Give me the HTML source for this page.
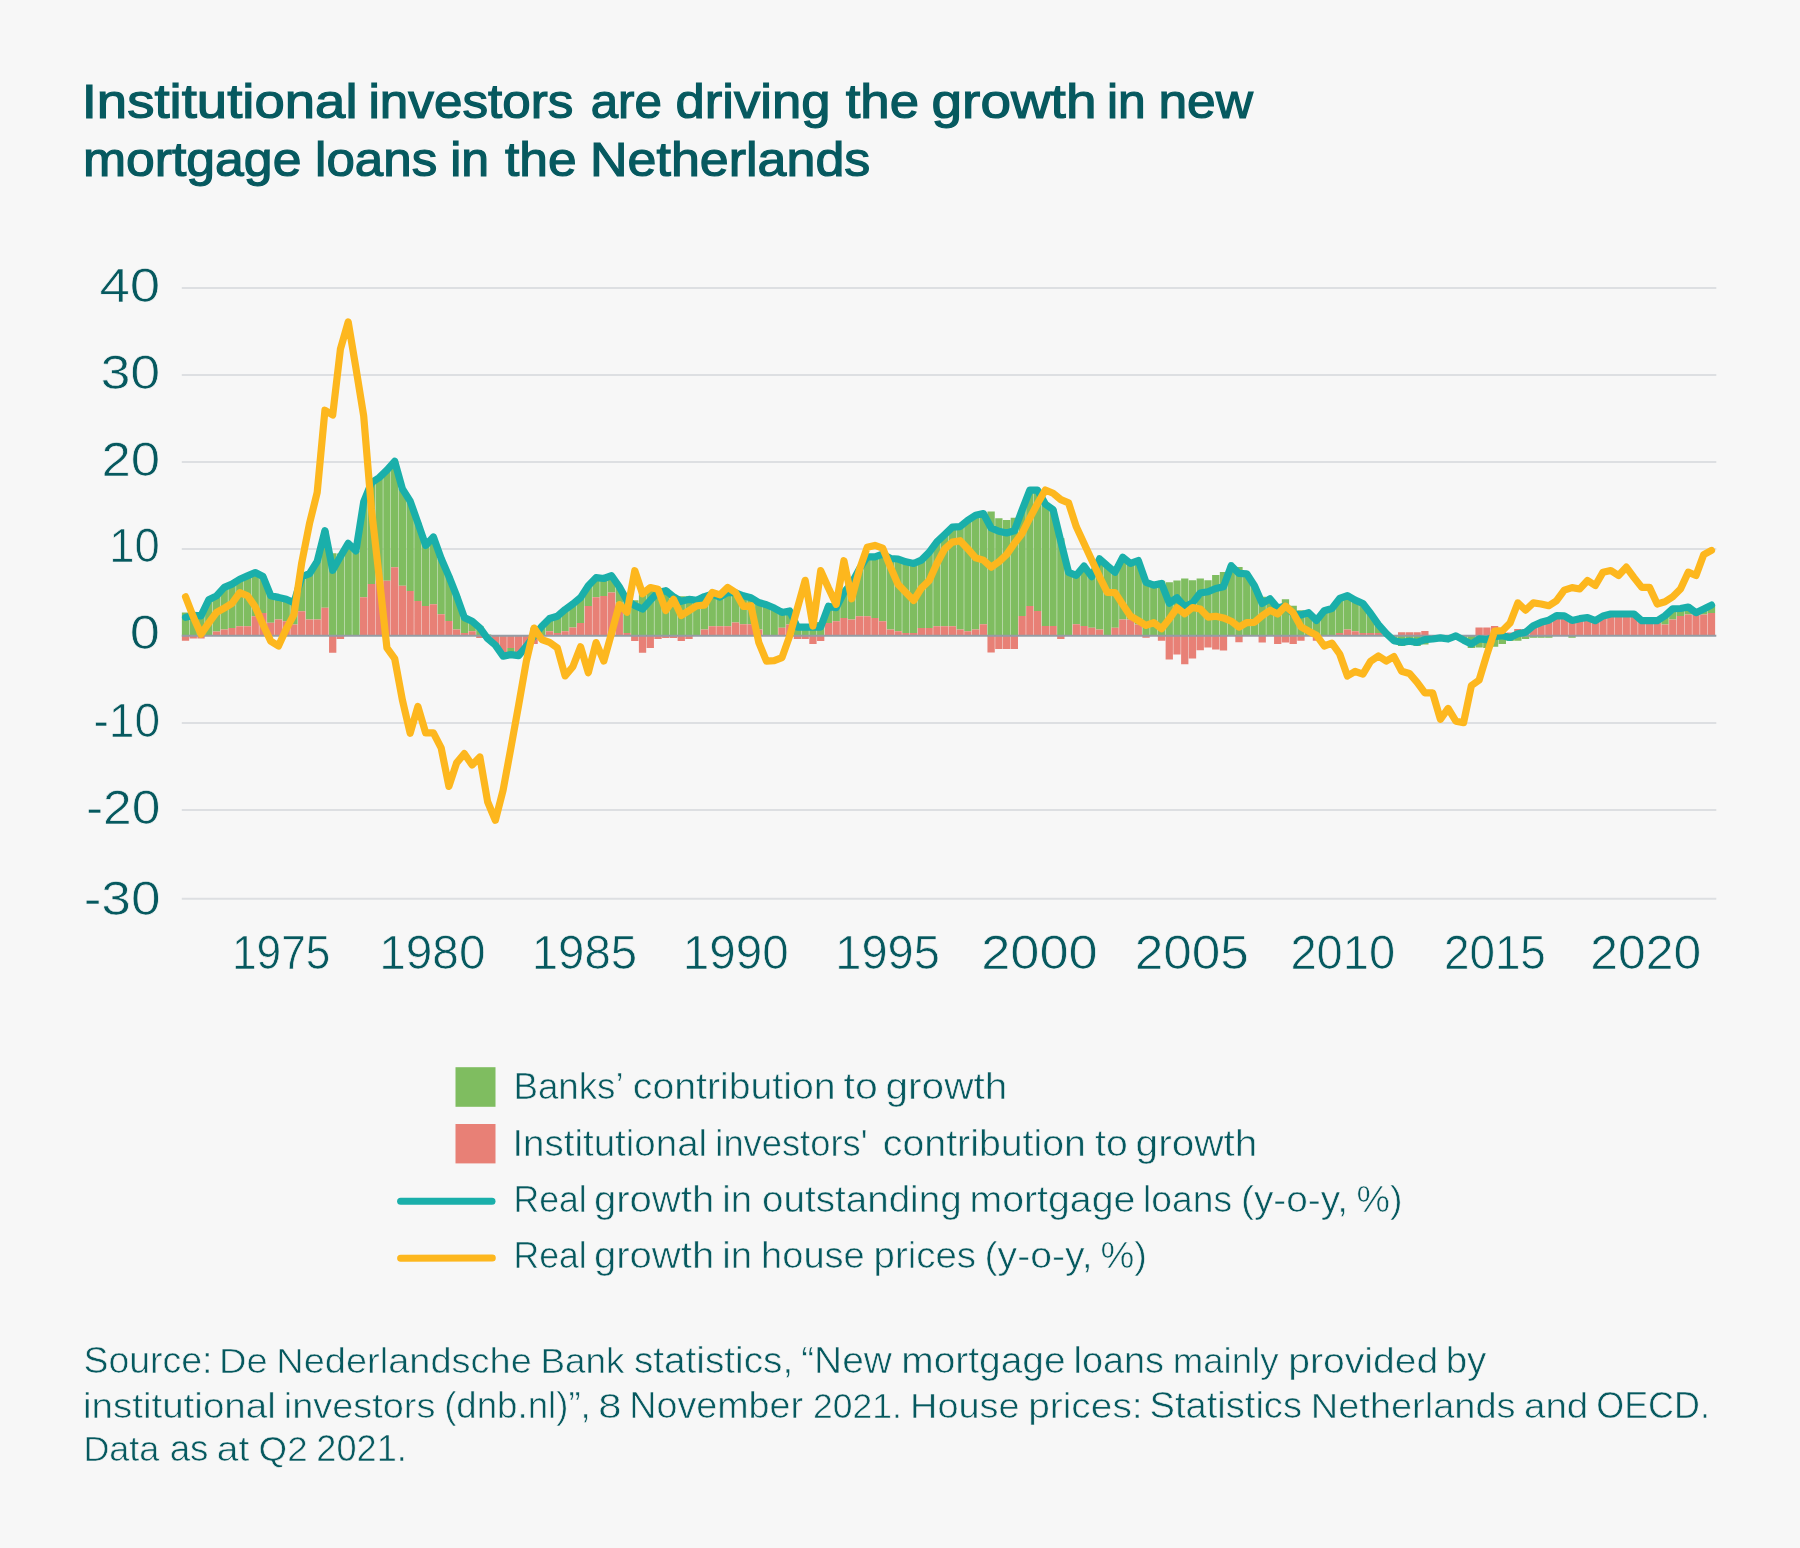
<!DOCTYPE html>
<html><head><meta charset="utf-8"><title>Chart</title>
<style>html,body{margin:0;padding:0;background:#f7f7f7;}body{width:1800px;height:1548px;position:relative;overflow:hidden;font-family:"Liberation Sans",sans-serif;}</style>
</head><body>
<svg width="1800" height="1548" viewBox="0 0 1800 1548" style="position:absolute;left:0;top:0">
<rect width="1800" height="1548" fill="#f7f7f7"/>
<line x1="181.8" x2="1716.3" y1="288.12" y2="288.12" stroke="#dddfe2" stroke-width="2"/>
<line x1="181.8" x2="1716.3" y1="375.09" y2="375.09" stroke="#dddfe2" stroke-width="2"/>
<line x1="181.8" x2="1716.3" y1="462.06" y2="462.06" stroke="#dddfe2" stroke-width="2"/>
<line x1="181.8" x2="1716.3" y1="549.03" y2="549.03" stroke="#dddfe2" stroke-width="2"/>
<line x1="181.8" x2="1716.3" y1="722.97" y2="722.97" stroke="#dddfe2" stroke-width="2"/>
<line x1="181.8" x2="1716.3" y1="809.94" y2="809.94" stroke="#dddfe2" stroke-width="2"/>
<line x1="181.8" x2="1716.3" y1="898.80" y2="898.80" stroke="#dddfe2" stroke-width="2"/>
<path d="M181.87 612.59h7.3V635.90h-7.3zM189.62 612.85h7.3V635.90h-7.3zM197.37 613.29h7.3V635.90h-7.3zM205.11 599.81h7.3V635.90h-7.3zM212.86 595.89h7.3V631.55h-7.3zM220.60 587.37h7.3V629.55h-7.3zM228.35 584.07h7.3V627.90h-7.3zM236.10 579.28h7.3V626.33h-7.3zM243.84 575.89h7.3V626.33h-7.3zM251.59 572.50h7.3V616.24h-7.3zM259.33 576.50h7.3V612.94h-7.3zM267.08 595.72h7.3V622.85h-7.3zM274.82 597.37h7.3V619.55h-7.3zM282.57 599.29h7.3V621.20h-7.3zM290.32 602.85h7.3V624.59h-7.3zM298.06 576.76h7.3V611.20h-7.3zM305.81 573.72h7.3V619.55h-7.3zM313.56 561.45h7.3V619.55h-7.3zM321.30 530.67h7.3V607.72h-7.3zM329.05 553.28h7.3V635.90h-7.3zM336.79 553.45h7.3V635.90h-7.3zM344.54 543.36h7.3V635.90h-7.3zM352.29 550.84h7.3V635.90h-7.3zM360.03 501.97h7.3V597.37h-7.3zM367.78 482.83h7.3V584.07h-7.3zM375.52 477.61h7.3V580.67h-7.3zM383.27 470.14h7.3V580.67h-7.3zM391.02 461.26h7.3V567.37h-7.3zM398.76 488.92h7.3V585.72h-7.3zM406.51 501.10h7.3V590.94h-7.3zM414.25 522.84h7.3V600.94h-7.3zM422.00 545.45h7.3V605.98h-7.3zM429.75 537.02h7.3V604.16h-7.3zM437.49 558.50h7.3V614.33h-7.3zM445.24 576.33h7.3V621.03h-7.3zM452.98 595.89h7.3V629.38h-7.3zM460.73 617.64h7.3V632.94h-7.3zM468.48 621.20h7.3V631.20h-7.3zM476.22 625.90h7.3V635.90h-7.3zM483.97 634.60h7.3V635.90h-7.3zM499.46 654.16h7.3V656.25h-7.3zM507.20 647.90h7.3V654.60h-7.3zM514.95 654.16h7.3V655.64h-7.3zM530.44 627.81h7.3V635.90h-7.3zM538.19 626.33h7.3V635.90h-7.3zM545.93 618.51h7.3V631.20h-7.3zM553.68 616.24h7.3V632.94h-7.3zM561.43 609.55h7.3V631.20h-7.3zM569.17 603.98h7.3V627.55h-7.3zM576.92 597.63h7.3V622.94h-7.3zM584.66 585.72h7.3V605.90h-7.3zM592.41 577.63h7.3V597.37h-7.3zM600.16 578.50h7.3V596.07h-7.3zM607.90 575.72h7.3V592.41h-7.3zM615.65 586.76h7.3V602.85h-7.3zM623.39 600.68h7.3V632.94h-7.3zM631.14 600.33h7.3V635.90h-7.3zM638.89 592.07h7.3V635.90h-7.3zM646.63 588.33h7.3V635.90h-7.3zM654.38 589.28h7.3V635.90h-7.3zM662.12 588.68h7.3V635.90h-7.3zM669.87 594.76h7.3V635.90h-7.3zM677.62 596.15h7.3V635.90h-7.3zM685.36 596.24h7.3V635.90h-7.3zM693.11 600.33h7.3V635.90h-7.3zM700.86 596.59h7.3V629.38h-7.3zM708.60 594.15h7.3V626.25h-7.3zM716.35 597.02h7.3V626.25h-7.3zM724.09 592.41h7.3V626.25h-7.3zM731.84 592.94h7.3V622.59h-7.3zM739.58 595.81h7.3V624.25h-7.3zM747.33 597.72h7.3V624.25h-7.3zM755.08 602.50h7.3V629.38h-7.3zM762.82 604.68h7.3V635.90h-7.3zM770.57 608.07h7.3V635.90h-7.3zM778.31 612.42h7.3V627.64h-7.3zM786.06 610.94h7.3V624.59h-7.3zM793.81 624.07h7.3V635.90h-7.3zM801.55 623.90h7.3V635.90h-7.3zM809.30 618.94h7.3V635.90h-7.3zM817.04 621.90h7.3V635.90h-7.3zM824.79 606.24h7.3V622.94h-7.3zM832.54 607.72h7.3V621.20h-7.3zM840.28 592.41h7.3V617.90h-7.3zM848.03 583.28h7.3V619.55h-7.3zM855.77 568.93h7.3V616.24h-7.3zM863.52 556.84h7.3V616.24h-7.3zM871.27 556.84h7.3V617.90h-7.3zM879.01 554.15h7.3V621.20h-7.3zM886.76 558.50h7.3V629.55h-7.3zM894.50 559.02h7.3V631.20h-7.3zM902.25 561.80h7.3V632.94h-7.3zM910.00 563.45h7.3V632.94h-7.3zM917.74 560.15h7.3V627.90h-7.3zM925.49 552.41h7.3V627.90h-7.3zM933.24 541.97h7.3V626.25h-7.3zM940.98 534.58h7.3V626.25h-7.3zM948.73 527.19h7.3V626.25h-7.3zM956.47 526.58h7.3V629.55h-7.3zM964.22 520.23h7.3V631.20h-7.3zM971.97 515.19h7.3V629.55h-7.3zM979.71 513.53h7.3V624.33h-7.3zM987.46 511.45h7.3V635.90h-7.3zM995.20 518.23h7.3V635.90h-7.3zM1002.95 519.88h7.3V635.90h-7.3zM1010.69 517.71h7.3V635.90h-7.3zM1018.44 510.14h7.3V615.90h-7.3zM1026.19 490.14h7.3V605.90h-7.3zM1033.93 490.14h7.3V611.03h-7.3zM1041.68 504.05h7.3V625.99h-7.3zM1049.42 509.62h7.3V625.99h-7.3zM1057.17 538.15h7.3V635.90h-7.3zM1064.92 572.41h7.3V635.90h-7.3zM1072.66 575.28h7.3V624.33h-7.3zM1080.41 566.06h7.3V625.99h-7.3zM1088.15 576.59h7.3V627.64h-7.3zM1095.90 558.84h7.3V629.38h-7.3zM1103.65 565.72h7.3V635.90h-7.3zM1111.39 572.15h7.3V627.64h-7.3zM1119.14 557.19h7.3V619.38h-7.3zM1126.88 563.45h7.3V619.38h-7.3zM1134.63 560.50h7.3V624.59h-7.3zM1142.38 580.59h7.3V635.90h-7.3zM1150.12 585.11h7.3V635.90h-7.3zM1157.87 580.67h7.3V635.90h-7.3zM1165.62 582.15h7.3V635.90h-7.3zM1173.36 580.50h7.3V635.90h-7.3zM1181.11 578.50h7.3V635.90h-7.3zM1188.85 580.24h7.3V635.90h-7.3zM1196.60 578.59h7.3V635.90h-7.3zM1204.35 580.24h7.3V635.90h-7.3zM1212.09 575.02h7.3V635.90h-7.3zM1219.84 572.06h7.3V635.90h-7.3zM1227.58 565.72h7.3V635.90h-7.3zM1235.33 567.11h7.3V635.90h-7.3zM1243.08 573.80h7.3V635.90h-7.3zM1250.82 585.72h7.3V635.90h-7.3zM1258.57 596.76h7.3V635.90h-7.3zM1266.31 598.76h7.3V635.90h-7.3zM1274.06 605.55h7.3V635.90h-7.3zM1281.81 599.29h7.3V635.90h-7.3zM1289.55 605.72h7.3V635.90h-7.3zM1297.30 610.24h7.3V635.90h-7.3zM1305.04 612.68h7.3V635.90h-7.3zM1312.79 615.64h7.3V635.90h-7.3zM1320.54 610.68h7.3V635.90h-7.3zM1328.28 608.50h7.3V635.90h-7.3zM1336.03 598.50h7.3V632.94h-7.3zM1343.77 595.72h7.3V629.55h-7.3zM1351.52 600.16h7.3V631.20h-7.3zM1359.27 603.46h7.3V632.94h-7.3zM1367.01 613.46h7.3V632.94h-7.3zM1374.76 624.59h7.3V632.94h-7.3zM1382.50 633.46h7.3V634.16h-7.3zM1390.25 635.90h7.3V640.68h-7.3zM1398.00 635.90h7.3V645.90h-7.3zM1405.74 635.90h7.3V644.77h-7.3zM1413.49 635.90h7.3V645.90h-7.3zM1421.23 635.90h7.3V644.51h-7.3zM1428.98 635.90h7.3V639.03h-7.3zM1436.73 635.90h7.3V637.90h-7.3zM1444.47 635.90h7.3V639.03h-7.3zM1459.96 635.90h7.3V640.16h-7.3zM1467.71 635.90h7.3V647.90h-7.3zM1475.46 635.90h7.3V647.47h-7.3zM1483.20 635.90h7.3V648.08h-7.3zM1490.95 635.90h7.3V646.68h-7.3zM1498.69 635.90h7.3V643.99h-7.3zM1506.44 635.90h7.3V640.94h-7.3zM1514.19 635.90h7.3V640.68h-7.3zM1521.93 635.90h7.3V639.03h-7.3zM1529.68 635.90h7.3V637.64h-7.3zM1537.42 635.90h7.3V637.64h-7.3zM1545.17 635.90h7.3V637.64h-7.3zM1568.41 635.90h7.3V637.64h-7.3zM1661.36 615.72h7.3V624.59h-7.3zM1669.11 608.77h7.3V619.55h-7.3zM1676.85 608.50h7.3V615.98h-7.3zM1684.60 607.03h7.3V614.59h-7.3zM1692.34 612.68h7.3V614.59h-7.3zM1700.09 609.03h7.3V614.59h-7.3zM1707.84 605.11h7.3V612.94h-7.3z" fill="#7fbd60"/>
<path d="M181.87 635.90h7.3V640.68h-7.3zM189.62 635.90h7.3V638.51h-7.3zM197.37 635.90h7.3V638.51h-7.3zM212.86 631.55h7.3V635.90h-7.3zM220.60 629.55h7.3V635.90h-7.3zM228.35 627.90h7.3V635.90h-7.3zM236.10 626.33h7.3V635.90h-7.3zM243.84 626.33h7.3V635.90h-7.3zM251.59 616.24h7.3V635.90h-7.3zM259.33 612.94h7.3V635.90h-7.3zM267.08 622.85h7.3V635.90h-7.3zM274.82 619.55h7.3V635.90h-7.3zM282.57 621.20h7.3V635.90h-7.3zM290.32 624.59h7.3V635.90h-7.3zM298.06 611.20h7.3V635.90h-7.3zM305.81 619.55h7.3V635.90h-7.3zM313.56 619.55h7.3V635.90h-7.3zM321.30 607.72h7.3V635.90h-7.3zM329.05 635.90h7.3V652.86h-7.3zM336.79 635.90h7.3V639.03h-7.3zM360.03 597.37h7.3V635.90h-7.3zM367.78 584.07h7.3V635.90h-7.3zM375.52 580.67h7.3V635.90h-7.3zM383.27 580.67h7.3V635.90h-7.3zM391.02 567.37h7.3V635.90h-7.3zM398.76 585.72h7.3V635.90h-7.3zM406.51 590.94h7.3V635.90h-7.3zM414.25 600.94h7.3V635.90h-7.3zM422.00 605.98h7.3V635.90h-7.3zM429.75 604.16h7.3V635.90h-7.3zM437.49 614.33h7.3V635.90h-7.3zM445.24 621.03h7.3V635.90h-7.3zM452.98 629.38h7.3V635.90h-7.3zM460.73 632.94h7.3V635.90h-7.3zM468.48 631.20h7.3V635.90h-7.3zM476.22 635.90h7.3V637.90h-7.3zM483.97 635.90h7.3V639.81h-7.3zM491.71 635.90h7.3V645.12h-7.3zM499.46 635.90h7.3V654.16h-7.3zM507.20 635.90h7.3V647.90h-7.3zM514.95 635.90h7.3V654.16h-7.3zM522.70 635.90h7.3V646.34h-7.3zM530.44 635.90h7.3V643.99h-7.3zM545.93 631.20h7.3V635.90h-7.3zM553.68 632.94h7.3V635.90h-7.3zM561.43 631.20h7.3V635.90h-7.3zM569.17 627.55h7.3V635.90h-7.3zM576.92 622.94h7.3V635.90h-7.3zM584.66 605.90h7.3V635.90h-7.3zM592.41 597.37h7.3V635.90h-7.3zM600.16 596.07h7.3V635.90h-7.3zM607.90 592.41h7.3V635.90h-7.3zM615.65 602.85h7.3V635.90h-7.3zM623.39 632.94h7.3V635.90h-7.3zM631.14 635.90h7.3V641.03h-7.3zM638.89 635.90h7.3V652.86h-7.3zM646.63 635.90h7.3V647.90h-7.3zM654.38 635.90h7.3V639.03h-7.3zM662.12 635.90h7.3V637.90h-7.3zM669.87 635.90h7.3V637.90h-7.3zM677.62 635.90h7.3V641.03h-7.3zM685.36 635.90h7.3V639.03h-7.3zM700.86 629.38h7.3V635.90h-7.3zM708.60 626.25h7.3V635.90h-7.3zM716.35 626.25h7.3V635.90h-7.3zM724.09 626.25h7.3V635.90h-7.3zM731.84 622.59h7.3V635.90h-7.3zM739.58 624.25h7.3V635.90h-7.3zM747.33 624.25h7.3V635.90h-7.3zM755.08 629.38h7.3V635.90h-7.3zM778.31 627.64h7.3V635.90h-7.3zM786.06 624.59h7.3V635.90h-7.3zM793.81 635.90h7.3V639.03h-7.3zM801.55 635.90h7.3V639.03h-7.3zM809.30 635.90h7.3V643.99h-7.3zM817.04 635.90h7.3V641.03h-7.3zM824.79 622.94h7.3V635.90h-7.3zM832.54 621.20h7.3V635.90h-7.3zM840.28 617.90h7.3V635.90h-7.3zM848.03 619.55h7.3V635.90h-7.3zM855.77 616.24h7.3V635.90h-7.3zM863.52 616.24h7.3V635.90h-7.3zM871.27 617.90h7.3V635.90h-7.3zM879.01 621.20h7.3V635.90h-7.3zM886.76 629.55h7.3V635.90h-7.3zM894.50 631.20h7.3V635.90h-7.3zM902.25 632.94h7.3V635.90h-7.3zM910.00 632.94h7.3V635.90h-7.3zM917.74 627.90h7.3V635.90h-7.3zM925.49 627.90h7.3V635.90h-7.3zM933.24 626.25h7.3V635.90h-7.3zM940.98 626.25h7.3V635.90h-7.3zM948.73 626.25h7.3V635.90h-7.3zM956.47 629.55h7.3V635.90h-7.3zM964.22 631.20h7.3V635.90h-7.3zM971.97 629.55h7.3V635.90h-7.3zM979.71 624.33h7.3V635.90h-7.3zM987.46 635.90h7.3V652.42h-7.3zM995.20 635.90h7.3V648.95h-7.3zM1002.95 635.90h7.3V648.95h-7.3zM1010.69 635.90h7.3V648.95h-7.3zM1018.44 615.90h7.3V635.90h-7.3zM1026.19 605.90h7.3V635.90h-7.3zM1033.93 611.03h7.3V635.90h-7.3zM1041.68 625.99h7.3V635.90h-7.3zM1049.42 625.99h7.3V635.90h-7.3zM1057.17 635.90h7.3V639.03h-7.3zM1072.66 624.33h7.3V635.90h-7.3zM1080.41 625.99h7.3V635.90h-7.3zM1088.15 627.64h7.3V635.90h-7.3zM1095.90 629.38h7.3V635.90h-7.3zM1111.39 627.64h7.3V635.90h-7.3zM1119.14 619.38h7.3V635.90h-7.3zM1126.88 619.38h7.3V635.90h-7.3zM1134.63 624.59h7.3V635.90h-7.3zM1142.38 635.90h7.3V637.64h-7.3zM1157.87 635.90h7.3V640.77h-7.3zM1165.62 635.90h7.3V659.38h-7.3zM1173.36 635.90h7.3V654.42h-7.3zM1181.11 635.90h7.3V664.17h-7.3zM1188.85 635.90h7.3V658.51h-7.3zM1196.60 635.90h7.3V650.25h-7.3zM1204.35 635.90h7.3V647.47h-7.3zM1212.09 635.90h7.3V649.38h-7.3zM1219.84 635.90h7.3V650.60h-7.3zM1235.33 635.90h7.3V642.25h-7.3zM1258.57 635.90h7.3V642.60h-7.3zM1274.06 635.90h7.3V643.99h-7.3zM1281.81 635.90h7.3V642.60h-7.3zM1289.55 635.90h7.3V643.99h-7.3zM1297.30 635.90h7.3V640.68h-7.3zM1312.79 635.90h7.3V640.68h-7.3zM1336.03 632.94h7.3V635.90h-7.3zM1343.77 629.55h7.3V635.90h-7.3zM1351.52 631.20h7.3V635.90h-7.3zM1359.27 632.94h7.3V635.90h-7.3zM1367.01 632.94h7.3V635.90h-7.3zM1374.76 632.94h7.3V635.90h-7.3zM1382.50 634.16h7.3V635.90h-7.3zM1398.00 632.33h7.3V635.90h-7.3zM1405.74 632.33h7.3V635.90h-7.3zM1413.49 632.33h7.3V635.90h-7.3zM1421.23 630.94h7.3V635.90h-7.3zM1475.46 627.38h7.3V635.90h-7.3zM1483.20 627.38h7.3V635.90h-7.3zM1490.95 625.99h7.3V635.90h-7.3zM1498.69 632.42h7.3V635.90h-7.3zM1506.44 632.42h7.3V635.90h-7.3zM1514.19 628.94h7.3V635.90h-7.3zM1521.93 629.20h7.3V635.90h-7.3zM1529.68 623.99h7.3V635.90h-7.3zM1537.42 620.59h7.3V635.90h-7.3zM1545.17 618.42h7.3V635.90h-7.3zM1552.92 615.72h7.3V635.90h-7.3zM1560.66 615.90h7.3V635.90h-7.3zM1568.41 618.68h7.3V635.90h-7.3zM1576.15 618.68h7.3V635.90h-7.3zM1583.90 617.55h7.3V635.90h-7.3zM1591.65 620.68h7.3V635.90h-7.3zM1599.39 615.98h7.3V635.90h-7.3zM1607.14 613.98h7.3V635.90h-7.3zM1614.88 613.98h7.3V635.90h-7.3zM1622.63 613.98h7.3V635.90h-7.3zM1630.38 613.98h7.3V635.90h-7.3zM1638.12 620.68h7.3V635.90h-7.3zM1645.87 620.68h7.3V635.90h-7.3zM1653.61 620.68h7.3V635.90h-7.3zM1661.36 624.59h7.3V635.90h-7.3zM1669.11 619.55h7.3V635.90h-7.3zM1676.85 615.98h7.3V635.90h-7.3zM1684.60 614.59h7.3V635.90h-7.3zM1692.34 614.59h7.3V635.90h-7.3zM1700.09 614.59h7.3V635.90h-7.3zM1707.84 612.94h7.3V635.90h-7.3z" fill="#e88076"/>
<line x1="181.8" x2="1716.3" y1="635.8" y2="635.8" stroke="#959ca4" stroke-width="2.1"/>
<polyline points="185.52,617.38 193.27,615.46 201.02,615.90 208.76,599.81 216.51,595.89 224.25,587.37 232.00,584.07 239.75,579.28 247.49,575.89 255.24,572.50 262.98,576.50 270.73,595.72 278.48,597.37 286.22,599.29 293.97,602.85 301.71,576.76 309.46,573.72 317.21,561.45 324.95,530.67 332.70,570.24 340.44,556.58 348.19,543.36 355.94,550.84 363.68,501.97 371.43,482.83 379.17,477.61 386.92,470.14 394.67,461.26 402.41,488.92 410.16,501.10 417.90,522.84 425.65,545.45 433.39,537.02 441.14,558.50 448.89,576.33 456.63,595.89 464.38,617.64 472.12,621.20 479.87,627.90 487.62,638.51 495.36,645.12 503.11,656.25 510.86,654.60 518.60,655.64 526.35,646.34 534.09,635.90 541.84,626.33 549.59,618.51 557.33,616.24 565.08,609.55 572.82,603.98 580.57,597.63 588.32,585.72 596.06,577.63 603.81,578.50 611.55,575.72 619.30,586.76 627.05,600.68 634.79,605.46 642.54,609.03 650.28,600.33 658.03,592.41 665.77,590.68 673.52,596.76 681.27,601.29 689.01,599.37 696.76,600.33 704.50,596.59 712.25,594.15 720.00,597.02 727.74,592.41 735.49,592.94 743.24,595.81 750.98,597.72 758.73,602.50 766.47,604.68 774.22,608.07 781.97,612.42 789.71,610.94 797.46,627.20 805.20,627.03 812.95,627.03 820.70,627.03 828.44,606.24 836.19,607.72 843.93,592.41 851.68,583.28 859.43,568.93 867.17,556.84 874.92,556.84 882.66,554.15 890.41,558.50 898.15,559.02 905.90,561.80 913.65,563.45 921.39,560.15 929.14,552.41 936.88,541.97 944.63,534.58 952.38,527.19 960.12,526.58 967.87,520.23 975.62,515.19 983.36,513.53 991.11,527.97 998.85,531.28 1006.60,532.93 1014.35,530.75 1022.09,510.14 1029.84,490.14 1037.58,490.14 1045.33,504.05 1053.08,509.62 1060.82,541.28 1068.57,572.41 1076.31,575.28 1084.06,566.06 1091.81,576.59 1099.55,558.84 1107.30,565.72 1115.04,572.15 1122.79,557.19 1130.54,563.45 1138.28,560.50 1146.03,582.33 1153.77,585.11 1161.52,583.46 1169.27,603.29 1177.01,597.72 1184.76,606.77 1192.50,602.85 1200.25,592.94 1208.00,591.81 1215.74,588.50 1223.49,586.76 1231.23,565.72 1238.98,573.46 1246.73,573.80 1254.47,585.72 1262.22,603.46 1269.96,598.76 1277.71,608.07 1285.46,605.98 1293.20,613.81 1300.95,615.03 1308.69,612.68 1316.44,620.42 1324.19,610.68 1331.93,608.50 1339.68,598.50 1347.42,595.72 1355.17,600.16 1362.92,603.46 1370.66,613.46 1378.41,624.59 1386.15,633.46 1393.90,640.68 1401.65,642.34 1409.39,641.21 1417.14,642.34 1424.88,639.55 1432.63,639.03 1440.38,637.90 1448.12,639.03 1455.87,635.90 1463.61,640.16 1471.36,643.99 1479.11,638.94 1486.85,639.55 1494.60,636.77 1502.34,635.64 1510.09,637.47 1517.84,633.73 1525.58,632.33 1533.33,625.72 1541.07,622.33 1548.82,620.16 1556.57,615.72 1564.31,615.90 1572.06,620.42 1579.80,618.68 1587.55,617.55 1595.30,620.68 1603.04,615.98 1610.79,613.98 1618.53,613.98 1626.28,613.98 1634.03,613.98 1641.77,620.68 1649.52,620.68 1657.26,620.68 1665.01,615.72 1672.76,608.77 1680.50,608.50 1688.25,607.03 1695.99,612.68 1703.74,609.03 1711.49,605.11" fill="none" stroke="#1aafaa" stroke-width="7.2" stroke-linejoin="round" stroke-linecap="round"/>
<polyline points="185.52,596.76 193.27,616.77 201.02,634.16 208.76,622.85 216.51,612.42 224.25,608.07 232.00,603.46 239.75,592.59 247.49,595.72 255.24,606.77 262.98,624.59 270.73,641.12 278.48,645.99 286.22,628.94 293.97,614.59 301.71,562.85 309.46,523.71 317.21,492.40 324.95,410.21 332.70,415.00 340.44,348.90 348.19,321.94 355.94,368.03 363.68,415.87 371.43,508.92 379.17,576.76 386.92,647.90 394.67,658.51 402.41,700.08 410.16,733.22 417.90,706.43 425.65,732.87 433.39,732.87 441.14,747.83 448.89,786.36 456.63,762.88 464.38,753.66 472.12,765.05 479.87,756.96 487.62,801.75 495.36,820.28 503.11,790.10 510.86,748.09 518.60,705.48 526.35,661.12 534.09,628.07 541.84,639.55 549.59,642.34 557.33,647.90 565.08,675.91 572.82,666.77 580.57,646.77 588.32,672.69 596.06,642.60 603.81,661.03 611.55,633.29 619.30,604.59 627.05,612.16 634.79,570.67 642.54,593.81 650.28,587.54 658.03,589.28 665.77,610.50 673.52,599.37 681.27,615.46 689.01,610.68 696.76,605.72 704.50,605.11 712.25,592.41 720.00,594.85 727.74,587.37 735.49,592.59 743.24,606.33 750.98,605.72 758.73,642.34 766.47,661.03 774.22,660.69 781.97,657.64 789.71,635.90 797.46,608.07 805.20,580.33 812.95,625.99 820.70,570.67 828.44,588.07 836.19,604.33 843.93,560.67 851.68,598.76 859.43,569.63 867.17,547.36 874.92,545.45 882.66,548.06 890.41,566.85 898.15,584.59 905.90,592.41 913.65,600.50 921.39,588.07 929.14,580.67 936.88,563.45 944.63,548.93 952.38,542.15 960.12,540.67 967.87,548.93 975.62,557.89 983.36,560.15 991.11,567.19 998.85,561.80 1006.60,554.58 1014.35,543.45 1022.09,533.45 1029.84,517.97 1037.58,503.53 1045.33,489.96 1053.08,493.27 1060.82,499.62 1068.57,502.92 1076.31,526.84 1084.06,543.45 1091.81,560.15 1099.55,576.85 1107.30,592.41 1115.04,592.59 1122.79,604.59 1130.54,616.24 1138.28,620.68 1146.03,625.46 1153.77,622.68 1161.52,628.77 1169.27,619.03 1177.01,607.90 1184.76,613.81 1192.50,607.55 1200.25,609.03 1208.00,617.11 1215.74,616.24 1223.49,617.90 1231.23,621.20 1238.98,627.20 1246.73,622.59 1254.47,622.33 1262.22,615.72 1269.96,610.33 1277.71,613.98 1285.46,605.98 1293.20,612.94 1300.95,626.77 1308.69,631.20 1316.44,635.12 1324.19,645.99 1331.93,643.21 1339.68,653.99 1347.42,675.99 1355.17,671.47 1362.92,674.08 1370.66,661.21 1378.41,655.99 1386.15,661.03 1393.90,656.60 1401.65,671.21 1409.39,673.47 1417.14,682.34 1424.88,692.87 1432.63,692.87 1440.38,719.30 1448.12,708.43 1455.87,721.22 1463.61,722.61 1471.36,685.65 1479.11,680.08 1486.85,654.60 1494.60,631.03 1502.34,630.68 1510.09,622.94 1517.84,602.94 1525.58,610.16 1533.33,602.94 1541.07,603.98 1548.82,605.72 1556.57,600.68 1564.31,590.15 1572.06,587.63 1579.80,588.94 1587.55,580.50 1595.30,585.46 1603.04,572.15 1610.79,570.50 1618.53,575.46 1626.28,567.19 1634.03,577.63 1641.77,587.37 1649.52,587.37 1657.26,603.98 1665.01,601.81 1672.76,596.76 1680.50,589.02 1688.25,572.15 1695.99,575.46 1703.74,554.58 1711.49,550.41" fill="none" stroke="#fdb71e" stroke-width="7.2" stroke-linejoin="round" stroke-linecap="round"/>
<rect x="455.5" y="1067.2" width="40" height="39.6" fill="#7fbd60"/>
<rect x="455.5" y="1124" width="40" height="39.4" fill="#e88076"/>
<line x1="400.6" x2="492.0" y1="1201.3" y2="1201.3" stroke="#1aafaa" stroke-width="7" stroke-linecap="round"/>
<line x1="400.6" x2="492.3" y1="1258.3" y2="1258.1" stroke="#fdb71e" stroke-width="7" stroke-linecap="round"/>
<g font-family="Liberation Sans, sans-serif" fill="#06595f" style="opacity:0.999">
<text transform="translate(81.64 118.00) scale(1.1390 1)" font-size="47.9" stroke="#06595f" stroke-width="1.2" paint-order="stroke">Institutional</text>
<text transform="translate(368.49 118.00) scale(1.0691 1)" font-size="47.9" stroke="#06595f" stroke-width="1.2" paint-order="stroke">investors</text>
<text transform="translate(590.67 118.00) scale(1.0299 1)" font-size="47.9" stroke="#06595f" stroke-width="1.2" paint-order="stroke">are</text>
<text transform="translate(675.60 118.00) scale(1.0986 1)" font-size="47.9" stroke="#06595f" stroke-width="1.2" paint-order="stroke">driving</text>
<text transform="translate(845.70 118.00) scale(1.1015 1)" font-size="47.9" stroke="#06595f" stroke-width="1.2" paint-order="stroke">the</text>
<text transform="translate(931.55 118.00) scale(1.1471 1)" font-size="47.9" stroke="#06595f" stroke-width="1.2" paint-order="stroke">growth</text>
<text transform="translate(1106.88 118.00) scale(1.0406 1)" font-size="47.9" stroke="#06595f" stroke-width="1.2" paint-order="stroke">in</text>
<text transform="translate(1158.47 118.00) scale(1.0756 1)" font-size="47.9" stroke="#06595f" stroke-width="1.2" paint-order="stroke">new</text>
<text transform="translate(82.96 175.80) scale(1.0798 1)" font-size="47.9" stroke="#06595f" stroke-width="1.2" paint-order="stroke">mortgage</text>
<text transform="translate(315.10 175.80) scale(1.0673 1)" font-size="47.9" stroke="#06595f" stroke-width="1.2" paint-order="stroke">loans</text>
<text transform="translate(450.17 175.80) scale(1.0437 1)" font-size="47.9" stroke="#06595f" stroke-width="1.2" paint-order="stroke">in</text>
<text transform="translate(505.00 175.80) scale(1.0769 1)" font-size="47.9" stroke="#06595f" stroke-width="1.2" paint-order="stroke">the</text>
<text transform="translate(590.04 175.80) scale(1.0854 1)" font-size="47.9" stroke="#06595f" stroke-width="1.2" paint-order="stroke">Netherlands</text>
<text transform="translate(99.47 301.50) scale(1.1160 1)" font-size="49" stroke="#f7f7f7" stroke-width="0.7">40</text>
<text transform="translate(100.41 388.50) scale(1.0980 1)" font-size="49" stroke="#f7f7f7" stroke-width="0.7">30</text>
<text transform="translate(101.47 475.50) scale(1.0776 1)" font-size="49" stroke="#f7f7f7" stroke-width="0.7">20</text>
<text transform="translate(109.29 562.40) scale(0.9271 1)" font-size="49" stroke="#f7f7f7" stroke-width="0.7">10</text>
<text transform="translate(129.78 649.40) scale(1.1087 1)" font-size="49" stroke="#f7f7f7" stroke-width="0.7">0</text>
<text transform="translate(93.48 736.60) scale(0.9415 1)" font-size="49" stroke="#f7f7f7" stroke-width="0.7">-10</text>
<text transform="translate(85.94 823.80) scale(1.0523 1)" font-size="49" stroke="#f7f7f7" stroke-width="0.7">-20</text>
<text transform="translate(83.64 914.50) scale(1.0862 1)" font-size="49" stroke="#f7f7f7" stroke-width="0.7">-30</text>
<text transform="translate(231.99 968.50) scale(0.9020 1)" font-size="49" stroke="#f7f7f7" stroke-width="0.7">1975</text>
<text transform="translate(379.20 968.50) scale(0.9757 1)" font-size="49" stroke="#f7f7f7" stroke-width="0.7">1980</text>
<text transform="translate(531.73 968.50) scale(0.9667 1)" font-size="49" stroke="#f7f7f7" stroke-width="0.7">1985</text>
<text transform="translate(682.82 968.50) scale(0.9709 1)" font-size="49" stroke="#f7f7f7" stroke-width="0.7">1990</text>
<text transform="translate(835.26 968.50) scale(0.9588 1)" font-size="49" stroke="#f7f7f7" stroke-width="0.7">1995</text>
<text transform="translate(981.19 968.50) scale(1.0692 1)" font-size="49" stroke="#f7f7f7" stroke-width="0.7">2000</text>
<text transform="translate(1134.65 968.50) scale(1.0485 1)" font-size="49" stroke="#f7f7f7" stroke-width="0.7">2005</text>
<text transform="translate(1290.42 968.50) scale(0.9615 1)" font-size="49" stroke="#f7f7f7" stroke-width="0.7">2010</text>
<text transform="translate(1443.89 968.50) scale(0.9359 1)" font-size="49" stroke="#f7f7f7" stroke-width="0.7">2015</text>
<text transform="translate(1590.25 968.50) scale(1.0173 1)" font-size="49" stroke="#f7f7f7" stroke-width="0.7">2020</text>
<text transform="translate(513.38 1098.90) scale(1.0067 1)" font-size="36.5" stroke="#f7f7f7" stroke-width="0.6">Banks’</text>
<text transform="translate(632.85 1098.90) scale(1.0750 1)" font-size="36.5" stroke="#f7f7f7" stroke-width="0.6">contribution</text>
<text transform="translate(843.58 1098.90) scale(1.1214 1)" font-size="36.5" stroke="#f7f7f7" stroke-width="0.6">to</text>
<text transform="translate(885.58 1098.90) scale(1.1105 1)" font-size="36.5" stroke="#f7f7f7" stroke-width="0.6">growth</text>
<text transform="translate(512.38 1155.60) scale(1.0551 1)" font-size="36.5" stroke="#f7f7f7" stroke-width="0.6">Institutional</text>
<text transform="translate(715.31 1155.60) scale(0.9953 1)" font-size="36.5" stroke="#f7f7f7" stroke-width="0.6">investors'</text>
<text transform="translate(882.85 1155.60) scale(1.0766 1)" font-size="36.5" stroke="#f7f7f7" stroke-width="0.6">contribution</text>
<text transform="translate(1095.03 1155.60) scale(1.0714 1)" font-size="36.5" stroke="#f7f7f7" stroke-width="0.6">to</text>
<text transform="translate(1135.58 1155.60) scale(1.1114 1)" font-size="36.5" stroke="#f7f7f7" stroke-width="0.6">growth</text>
<text transform="translate(513.48 1211.70) scale(0.9739 1)" font-size="36.5" stroke="#f7f7f7" stroke-width="0.6">Real</text>
<text transform="translate(593.90 1211.70) scale(1.0981 1)" font-size="36.5" stroke="#f7f7f7" stroke-width="0.6">growth</text>
<text transform="translate(722.16 1211.70) scale(1.0478 1)" font-size="36.5" stroke="#f7f7f7" stroke-width="0.6">in</text>
<text transform="translate(762.08 1211.70) scale(1.0576 1)" font-size="36.5" stroke="#f7f7f7" stroke-width="0.6">outstanding</text>
<text transform="translate(969.47 1211.70) scale(1.0765 1)" font-size="36.5" stroke="#f7f7f7" stroke-width="0.6">mortgage</text>
<text transform="translate(1143.04 1211.70) scale(1.0205 1)" font-size="36.5" stroke="#f7f7f7" stroke-width="0.6">loans</text>
<text transform="translate(1241.01 1211.70) scale(1.0638 1)" font-size="36.5" stroke="#f7f7f7" stroke-width="0.6">(y-o-y,</text>
<text transform="translate(1356.54 1211.70) scale(1.0300 1)" font-size="36.5" stroke="#f7f7f7" stroke-width="0.6">%)</text>
<text transform="translate(513.48 1268.30) scale(0.9739 1)" font-size="36.5" stroke="#f7f7f7" stroke-width="0.6">Real</text>
<text transform="translate(593.90 1268.30) scale(1.0981 1)" font-size="36.5" stroke="#f7f7f7" stroke-width="0.6">growth</text>
<text transform="translate(722.16 1268.30) scale(1.0478 1)" font-size="36.5" stroke="#f7f7f7" stroke-width="0.6">in</text>
<text transform="translate(761.07 1268.30) scale(1.0432 1)" font-size="36.5" stroke="#f7f7f7" stroke-width="0.6">house</text>
<text transform="translate(873.54 1268.30) scale(1.0527 1)" font-size="36.5" stroke="#f7f7f7" stroke-width="0.6">prices</text>
<text transform="translate(984.58 1268.30) scale(1.0723 1)" font-size="36.5" stroke="#f7f7f7" stroke-width="0.6">(y-o-y,</text>
<text transform="translate(1100.41 1268.30) scale(1.0425 1)" font-size="36.5" stroke="#f7f7f7" stroke-width="0.6">%)</text>
<text transform="translate(83.52 1373.30) scale(1.0398 1)" font-size="36" stroke="#f7f7f7" stroke-width="0.6">Source:</text>
<text transform="translate(219.02 1373.30) scale(1.0585 1)" font-size="36" stroke="#f7f7f7" stroke-width="0.6">De</text>
<text transform="translate(276.23 1373.30) scale(1.0557 1)" font-size="36" stroke="#f7f7f7" stroke-width="0.6">Nederlandsche</text>
<text transform="translate(540.43 1373.30) scale(1.0231 1)" font-size="36" stroke="#f7f7f7" stroke-width="0.6">Bank</text>
<text transform="translate(633.95 1373.30) scale(1.0761 1)" font-size="36" stroke="#f7f7f7" stroke-width="0.6">statistics,</text>
<text transform="translate(801.14 1373.30) scale(1.0802 1)" font-size="36" stroke="#f7f7f7" stroke-width="0.6">“New</text>
<text transform="translate(901.26 1373.30) scale(1.0803 1)" font-size="36" stroke="#f7f7f7" stroke-width="0.6">mortgage</text>
<text transform="translate(1073.54 1373.30) scale(1.0519 1)" font-size="36" stroke="#f7f7f7" stroke-width="0.6">loans</text>
<text transform="translate(1172.75 1373.30) scale(1.0170 1)" font-size="36" stroke="#f7f7f7" stroke-width="0.6">mainly</text>
<text transform="translate(1288.14 1373.30) scale(1.0879 1)" font-size="36" stroke="#f7f7f7" stroke-width="0.6">provided</text>
<text transform="translate(1445.69 1373.30) scale(1.0706 1)" font-size="36" stroke="#f7f7f7" stroke-width="0.6">by</text>
<text transform="translate(82.89 1417.80) scale(1.0713 1)" font-size="36" stroke="#f7f7f7" stroke-width="0.6">institutional</text>
<text transform="translate(283.74 1417.80) scale(1.0532 1)" font-size="36" stroke="#f7f7f7" stroke-width="0.6">investors</text>
<text transform="translate(444.15 1417.80) scale(1.0182 1)" font-size="36" stroke="#f7f7f7" stroke-width="0.6">(dnb.nl)”,</text>
<text transform="translate(598.27 1417.80) scale(1.1625 1)" font-size="36" stroke="#f7f7f7" stroke-width="0.6">8</text>
<text transform="translate(629.36 1417.80) scale(1.0457 1)" font-size="36" stroke="#f7f7f7" stroke-width="0.6">November</text>
<text transform="translate(813.03 1417.80) scale(0.9857 1)" font-size="36" stroke="#f7f7f7" stroke-width="0.6">2021.</text>
<text transform="translate(910.04 1417.80) scale(1.0525 1)" font-size="36" stroke="#f7f7f7" stroke-width="0.6">House</text>
<text transform="translate(1028.16 1417.80) scale(1.0798 1)" font-size="36" stroke="#f7f7f7" stroke-width="0.6">prices:</text>
<text transform="translate(1149.58 1417.80) scale(1.0579 1)" font-size="36" stroke="#f7f7f7" stroke-width="0.6">Statistics</text>
<text transform="translate(1310.84 1417.80) scale(1.0545 1)" font-size="36" stroke="#f7f7f7" stroke-width="0.6">Netherlands</text>
<text transform="translate(1523.96 1417.80) scale(1.0709 1)" font-size="36" stroke="#f7f7f7" stroke-width="0.6">and</text>
<text transform="translate(1596.31 1417.80) scale(0.9963 1)" font-size="36" stroke="#f7f7f7" stroke-width="0.6">OECD.</text>
<text transform="translate(83.41 1461.40) scale(0.9973 1)" font-size="36" stroke="#f7f7f7" stroke-width="0.6">Data</text>
<text transform="translate(169.66 1461.40) scale(1.0206 1)" font-size="36" stroke="#f7f7f7" stroke-width="0.6">as</text>
<text transform="translate(216.74 1461.40) scale(1.0815 1)" font-size="36" stroke="#f7f7f7" stroke-width="0.6">at</text>
<text transform="translate(258.55 1461.40) scale(1.0227 1)" font-size="36" stroke="#f7f7f7" stroke-width="0.6">Q2</text>
<text transform="translate(316.29 1461.40) scale(1.0048 1)" font-size="36" stroke="#f7f7f7" stroke-width="0.6">2021.</text>
</g>
</svg>
</body></html>
